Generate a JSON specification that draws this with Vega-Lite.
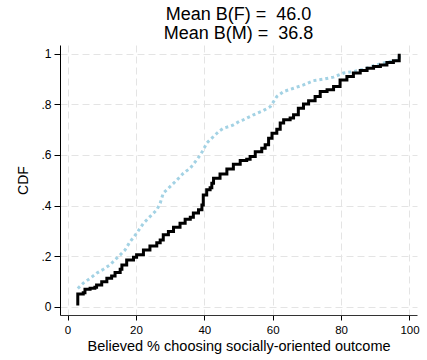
{
  "$schema": "https://vega.github.io/schema/vega-lite/v6.json",
  "width": 357,
  "height": 270,
  "autosize": {"type": "none"},
  "padding": {"left": 60, "top": 45, "right": 10, "bottom": 45},
  "background": "white",
  "config": {
    "view": {"stroke": null},
    "font": "Liberation Sans"
  },
  "title": {
    "text": ["Mean B(F) = \u00a046.0", "Mean B(M) = \u00a036.8"],
    "fontSize": 18,
    "fontWeight": "normal",
    "font": "Liberation Sans",
    "color": "#000000",
    "anchor": "middle",
    "lineHeight": 19,
    "offset": 2
  },
  "datasets": {
    "female": [
      {"x": 3.0, "cdf": 0.005}, {"x": 3.0, "cdf": 0.050}, {"x": 4.6, "cdf": 0.055}, {"x": 5.1, "cdf": 0.069},
      {"x": 6.6, "cdf": 0.073}, {"x": 8.0, "cdf": 0.077}, {"x": 8.5, "cdf": 0.086}, {"x": 10.0, "cdf": 0.099},
      {"x": 11.5, "cdf": 0.112}, {"x": 12.9, "cdf": 0.121}, {"x": 13.9, "cdf": 0.135}, {"x": 15.4, "cdf": 0.148},
      {"x": 15.9, "cdf": 0.165}, {"x": 17.3, "cdf": 0.185}, {"x": 19.3, "cdf": 0.195}, {"x": 20.2, "cdf": 0.205},
      {"x": 22.2, "cdf": 0.224}, {"x": 24.1, "cdf": 0.240}, {"x": 26.1, "cdf": 0.253}, {"x": 27.1, "cdf": 0.264},
      {"x": 28.0, "cdf": 0.284}, {"x": 29.5, "cdf": 0.297}, {"x": 31.0, "cdf": 0.314}, {"x": 32.9, "cdf": 0.330},
      {"x": 34.4, "cdf": 0.346}, {"x": 35.9, "cdf": 0.354}, {"x": 36.8, "cdf": 0.370}, {"x": 38.3, "cdf": 0.383},
      {"x": 39.3, "cdf": 0.402}, {"x": 39.7, "cdf": 0.442}, {"x": 40.7, "cdf": 0.462}, {"x": 41.7, "cdf": 0.470},
      {"x": 42.2, "cdf": 0.488}, {"x": 42.7, "cdf": 0.508}, {"x": 44.6, "cdf": 0.525}, {"x": 46.6, "cdf": 0.545},
      {"x": 48.5, "cdf": 0.563}, {"x": 50.5, "cdf": 0.578}, {"x": 52.4, "cdf": 0.583}, {"x": 53.4, "cdf": 0.594},
      {"x": 54.9, "cdf": 0.613}, {"x": 56.8, "cdf": 0.627}, {"x": 57.8, "cdf": 0.640}, {"x": 58.8, "cdf": 0.666},
      {"x": 59.8, "cdf": 0.686}, {"x": 61.2, "cdf": 0.702}, {"x": 62.2, "cdf": 0.726}, {"x": 63.2, "cdf": 0.739},
      {"x": 65.1, "cdf": 0.746}, {"x": 66.1, "cdf": 0.759}, {"x": 67.5, "cdf": 0.785}, {"x": 69.0, "cdf": 0.802},
      {"x": 70.5, "cdf": 0.814}, {"x": 72.4, "cdf": 0.831}, {"x": 73.9, "cdf": 0.851}, {"x": 75.9, "cdf": 0.858},
      {"x": 77.8, "cdf": 0.871}, {"x": 79.7, "cdf": 0.897}, {"x": 81.7, "cdf": 0.910}, {"x": 83.6, "cdf": 0.924},
      {"x": 85.6, "cdf": 0.934}, {"x": 87.6, "cdf": 0.943}, {"x": 89.5, "cdf": 0.950}, {"x": 91.5, "cdf": 0.956},
      {"x": 93.4, "cdf": 0.966}, {"x": 95.3, "cdf": 0.973}, {"x": 97.0, "cdf": 0.976}, {"x": 97.0, "cdf": 1.0}
    ],
    "male": [
      {"x": 3.0, "cdf": 0.072}, {"x": 4.6, "cdf": 0.093}, {"x": 6.6, "cdf": 0.112}, {"x": 8.5, "cdf": 0.132},
      {"x": 10.5, "cdf": 0.148}, {"x": 12.4, "cdf": 0.165}, {"x": 13.9, "cdf": 0.185}, {"x": 15.4, "cdf": 0.205},
      {"x": 16.8, "cdf": 0.224}, {"x": 18.3, "cdf": 0.257}, {"x": 20.2, "cdf": 0.290}, {"x": 22.2, "cdf": 0.330},
      {"x": 24.1, "cdf": 0.356}, {"x": 26.1, "cdf": 0.383}, {"x": 27.1, "cdf": 0.409}, {"x": 28.0, "cdf": 0.449},
      {"x": 30.0, "cdf": 0.475}, {"x": 32.0, "cdf": 0.501}, {"x": 33.9, "cdf": 0.528}, {"x": 35.9, "cdf": 0.548},
      {"x": 37.8, "cdf": 0.581}, {"x": 38.8, "cdf": 0.600}, {"x": 39.7, "cdf": 0.620}, {"x": 40.7, "cdf": 0.647},
      {"x": 42.7, "cdf": 0.673}, {"x": 43.7, "cdf": 0.686}, {"x": 44.6, "cdf": 0.697}, {"x": 45.6, "cdf": 0.706},
      {"x": 47.6, "cdf": 0.714}, {"x": 48.5, "cdf": 0.719}, {"x": 50.5, "cdf": 0.735}, {"x": 51.4, "cdf": 0.739},
      {"x": 54.4, "cdf": 0.759}, {"x": 57.3, "cdf": 0.776}, {"x": 59.3, "cdf": 0.791}, {"x": 61.2, "cdf": 0.831},
      {"x": 63.2, "cdf": 0.851}, {"x": 66.1, "cdf": 0.864}, {"x": 69.0, "cdf": 0.877}, {"x": 71.9, "cdf": 0.894},
      {"x": 74.9, "cdf": 0.900}, {"x": 77.8, "cdf": 0.908}, {"x": 80.7, "cdf": 0.924}, {"x": 83.6, "cdf": 0.930},
      {"x": 86.6, "cdf": 0.939}, {"x": 89.5, "cdf": 0.953}, {"x": 92.4, "cdf": 0.964}, {"x": 94.4, "cdf": 0.970},
      {"x": 97.0, "cdf": 0.976}, {"x": 97.0, "cdf": 1.0}
    ]
  },
  "encoding": {
    "x": {
      "field": "x", "type": "quantitative",
      "scale": {"domain": [-2.2, 102.2], "nice": false, "zero": false},
      "axis": {
        "title": "Believed % choosing socially-oriented outcome",
        "values": [0, 20, 40, 60, 80, 100],
        "format": "d",
        "grid": true, "gridColor": "#e4e4e4", "gridDash": [7, 4], "gridWidth": 1,
        "domainColor": "#333333", "domainWidth": 1,
        "tickColor": "#000000", "tickSize": 5,
        "labelFontSize": 11.5, "labelColor": "#000000", "labelPadding": 4, "labelFont": "Liberation Sans",
        "titleFontSize": 14.5, "titleFontWeight": "normal", "titleColor": "#000000", "titlePadding": 4, "titleFont": "Liberation Sans"
      }
    },
    "y": {
      "field": "cdf", "type": "quantitative",
      "scale": {"domain": [-0.033, 1.035], "nice": false, "zero": false},
      "axis": {
        "title": "CDF",
        "values": [0, 0.2, 0.4, 0.6, 0.8, 1],
        "labelExpr": "datum.value == 0 ? '0' : datum.value == 1 ? '1' : replace(format(datum.value, '.1f'), '0.', '.')",
        "grid": true, "gridColor": "#e4e4e4", "gridDash": [7, 4], "gridWidth": 1,
        "domainColor": "#000000", "domainWidth": 1,
        "tickColor": "#000000", "tickSize": 6,
        "labelFontSize": 12, "labelColor": "#000000", "labelPadding": 3, "labelFont": "Liberation Sans",
        "titleFontSize": 14, "titleFontWeight": "normal", "titleColor": "#000000", "titlePadding": 10, "titleFont": "Liberation Sans"
      }
    }
  },
  "layer": [
    {
      "data": {"name": "male"},
      "mark": {"type": "line", "color": "#a3d2e4", "strokeWidth": 3, "strokeDash": [3, 3], "interpolate": "linear"}
    },
    {
      "data": {"name": "female"},
      "mark": {"type": "line", "color": "#000000", "strokeWidth": 3, "interpolate": "step-after"}
    }
  ]
}
